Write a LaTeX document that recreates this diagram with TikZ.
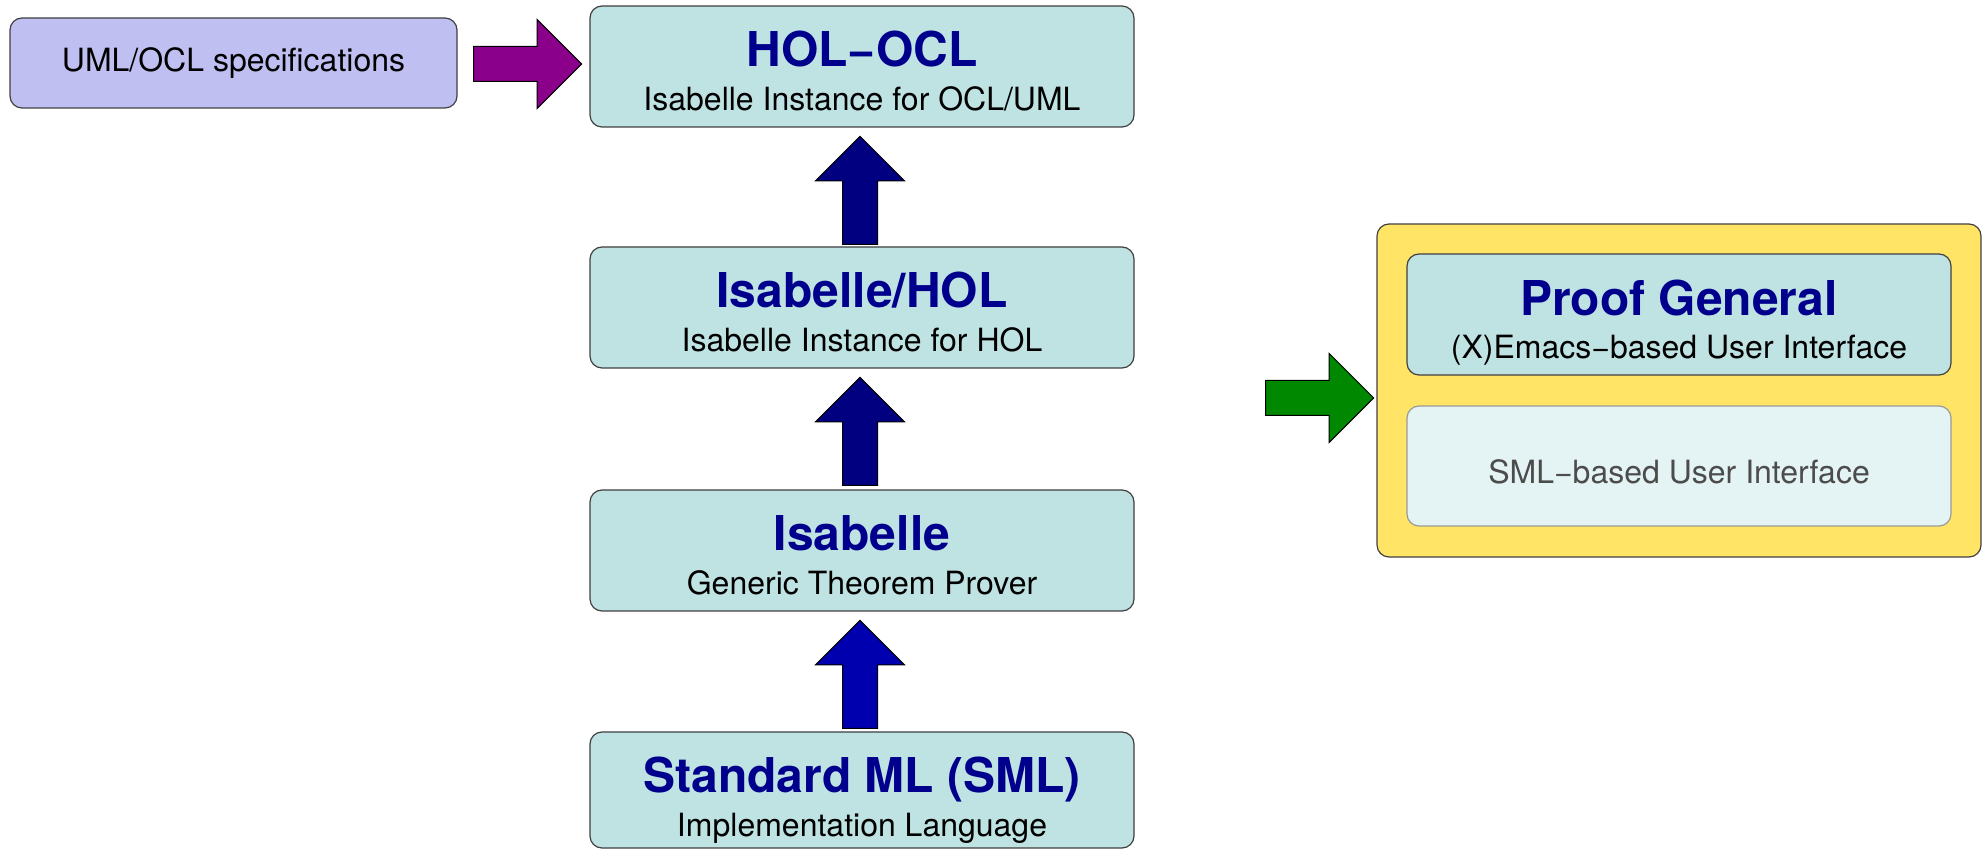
\documentclass[tikz,border=0pt]{standalone}
\usepackage{fontspec}
\setmainfont{TeX Gyre Heros}
\usetikzlibrary{shapes.arrows,calc}

\definecolor{layerfill}{RGB}{191,226,226}
\definecolor{umlfill}{RGB}{191,191,242}
\definecolor{uifill}{RGB}{228,243,243}
\definecolor{pgyellow}{RGB}{255,228,102}
\definecolor{titleblue}{RGB}{0,0,140}
\definecolor{navyarrow}{RGB}{0,0,128}
\definecolor{bluearrow}{RGB}{0,0,175}
\definecolor{purplearrow}{RGB}{139,0,139}
\definecolor{greenarrow}{RGB}{0,136,0}

\tikzset{
  layer/.style={draw=black!75, fill=layerfill, rounded corners=6pt, line width=0.6pt,
    minimum width=272pt, minimum height=60.5pt, inner sep=0pt},
  layertitle/.style={font=\bfseries\fontsize{24}{28}\selectfont, text=titleblue, anchor=base, inner sep=0pt},
  layersub/.style={font=\fontsize{16}{19}\selectfont, anchor=base, inner sep=0pt},
  blockarrow/.style={single arrow, draw=black, line width=0.5pt, inner sep=8.5pt,
    minimum height=54pt, minimum width=44pt, single arrow head extend=13.5pt,
    single arrow tip angle=90, anchor=tip}
}

\begin{document}
\begin{tikzpicture}[x=1pt,y=-1pt]
    \useasboundingbox (0,0) rectangle (991,424.5);
    \node[layer] (holocl) at (431,33.25) {};
    \node[layertitle] (holocl-title) at ($(holocl.north)+(0,30.5)$) {HOL−OCL};
    \node[layersub] (holocl-sub) at ($(holocl.north)+(0,52.5)$) {Isabelle Instance for OCL/UML};
    \node[layer] (isahol) at (431,153.75) {};
    \node[layertitle] (isahol-title) at ($(isahol.north)+(0,30.5)$) {Isabelle/HOL};
    \node[layersub] (isahol-sub) at ($(isahol.north)+(0,52.5)$) {Isabelle Instance for HOL};
    \node[layer] (isa) at (431,275.25) {};
    \node[layertitle] (isa-title) at ($(isa.north)+(0,30.5)$) {Isabelle};
    \node[layersub] (isa-sub) at ($(isa.north)+(0,52.5)$) {Generic Theorem Prover};
    \node[layer, minimum height=58pt] (sml) at (431,395) {};
    \node[layertitle] (sml-title) at ($(sml.north)+(0,30.5)$) {Standard ML (SML)};
    \node[layersub] (sml-sub) at ($(sml.north)+(0,52.5)$) {Implementation Language};

    \node[layer, fill=umlfill, minimum width=223.5pt, minimum height=45pt] (uml) at (116.75,31.5) {};
    \node[layersub] (uml-text) at ($(uml.center)+(0,4.5)$) {UML/OCL specifications};

    \node[layer, fill=pgyellow, minimum width=302pt, minimum height=166.5pt] (pgframe) at (839.5,195.25) {};
    \node[layer] (pg) at (839.5,157.25) {};
    \node[layertitle] (pg-title) at ($(pg.north)+(0,31)$) {Proof General};
    \node[layersub] (pg-sub) at ($(pg.north)+(0,52.5)$) {(X)Emacs−based User Interface};
    \node[layer, fill=uifill, draw=black!40, minimum height=60pt] (smlui) at (839.5,233) {};
    \node[layersub, text=black!70] (smlui-text) at ($(smlui.center)+(0,9)$) {SML−based User Interface};

    \node[blockarrow, fill=purplearrow] (toholocl) at ($(holocl.west)+(-3.5,-1.25)$) {};
    \node[blockarrow, fill=navyarrow, rotate=90] (toholocl2) at ($(holocl.south)+(-1,4)$) {};
    \node[blockarrow, fill=navyarrow, rotate=90] (toisahol) at ($(isahol.south)+(-1,4)$) {};
    \node[blockarrow, fill=bluearrow, rotate=90] (toisa) at ($(isa.south)+(-1,4)$) {};
    \node[blockarrow, fill=greenarrow] (topg) at ($(pgframe.west)+(-1,3.75)$) {};
\end{tikzpicture}
\end{document}
